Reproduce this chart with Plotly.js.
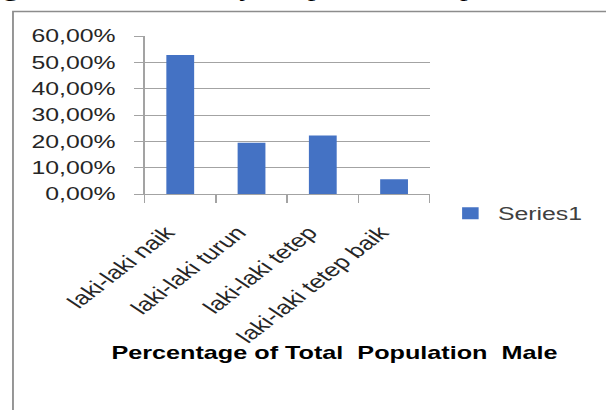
<!DOCTYPE html>
<html><head><meta charset="utf-8">
<script src="https://cdn.plot.ly/plotly-3.0.1.min.js"></script>
<style>
html,body{margin:0;padding:0;background:#fff;overflow:hidden;}
#wrap{width:606px;height:410px;overflow:hidden;position:relative;}
#chart{width:440px;height:410px;transform:scaleX(1.37727);transform-origin:0 0;}
</style></head><body><div id="wrap"><div id="chart"></div></div>
<script>
const categories = ["laki-laki naik", "laki-laki turun", "laki-laki tetep", "laki-laki tetep baik"];
const values = [0.5278, 0.1944, 0.2222, 0.0556];
const seriesName = "Series1";
const yTickValues = [0, 0.1, 0.2, 0.3, 0.4, 0.5, 0.6];
const xTitle = "Percentage of Total\u00a0 Population\u00a0 Male";
const topText = "g that was shown by the pre-test and post-test score results";

const grey = "#a3a3a3";
const font = "Liberation Sans, Arial, sans-serif";

const trace = {
  type: "bar",
  x: categories,
  y: values,
  name: seriesName,
  marker: {color: "#4472c4", line: {width: 0}},
  showlegend: true,
  hoverinfo: "skip"
};

const layout = {
  width: 440, height: 410, autosize: false,
  margin: {l: 105.3, r: 124.7, t: 36, b: 216, pad: 0},
  paper_bgcolor: "#fff", plot_bgcolor: "#fff",
  separators: ",.",
  bargap: 0.61,
  font: {family: font, color: "#262626"},
  xaxis: {
    type: "category",
    tickson: "boundaries",
    ticks: "outside", ticklen: 8, tickcolor: grey, tickwidth: 1,
    showline: true, linecolor: grey, linewidth: 1,
    showgrid: false, zeroline: false,
    tickangle: -47,
    ticklabelstandoff: 19,
    ticklabelshift: -10,
    tickfont: {family: font, size: 19, color: "#262626"}
  },
  yaxis: {
    range: [0, 0.6],
    tickvals: yTickValues,
    tickformat: ".2%",
    ticks: "outside", ticklen: 6.5, tickcolor: grey, tickwidth: 1,
    showline: true, linecolor: grey, linewidth: 1,
    showgrid: true, gridcolor: grey, gridwidth: 1,
    zeroline: false,
    ticklabelstandoff: 10,
    tickfont: {family: font, size: 18, color: "#262626"}
  },
  legend: {
    x: 1.046, xanchor: "left", y: -0.123, yanchor: "middle",
    font: {family: font, size: 18, color: "#404040"},
    bgcolor: "rgba(0,0,0,0)", borderwidth: 0
  },
  shapes: [{
    type: "rect", xref: "paper", yref: "paper",
    x0: -0.4617, x1: 3, y0: -3, y1: 1.155,
    line: {color: "#8c8c8c", width: 1.3}, fillcolor: "rgba(0,0,0,0)", layer: "below"
  }],
  annotations: [
    {
      text: "<b>" + xTitle + "</b>", xref: "paper", yref: "paper",
      x: 0.667, y: -1.006, xanchor: "center", yanchor: "middle",
      showarrow: false, font: {family: font, size: 18.3, color: "#000"}
    },
    {
      text: topText, xref: "paper", yref: "paper",
      x: -0.506, y: 1.209, xanchor: "left", yanchor: "bottom",
      showarrow: false, font: {family: "Liberation Serif, Times New Roman, serif", size: 22.4, color: "#000"}
    }
  ]
};

Plotly.newPlot("chart", [trace], layout, {staticPlot: true, displayModeBar: false, responsive: false});
</script></body></html>
